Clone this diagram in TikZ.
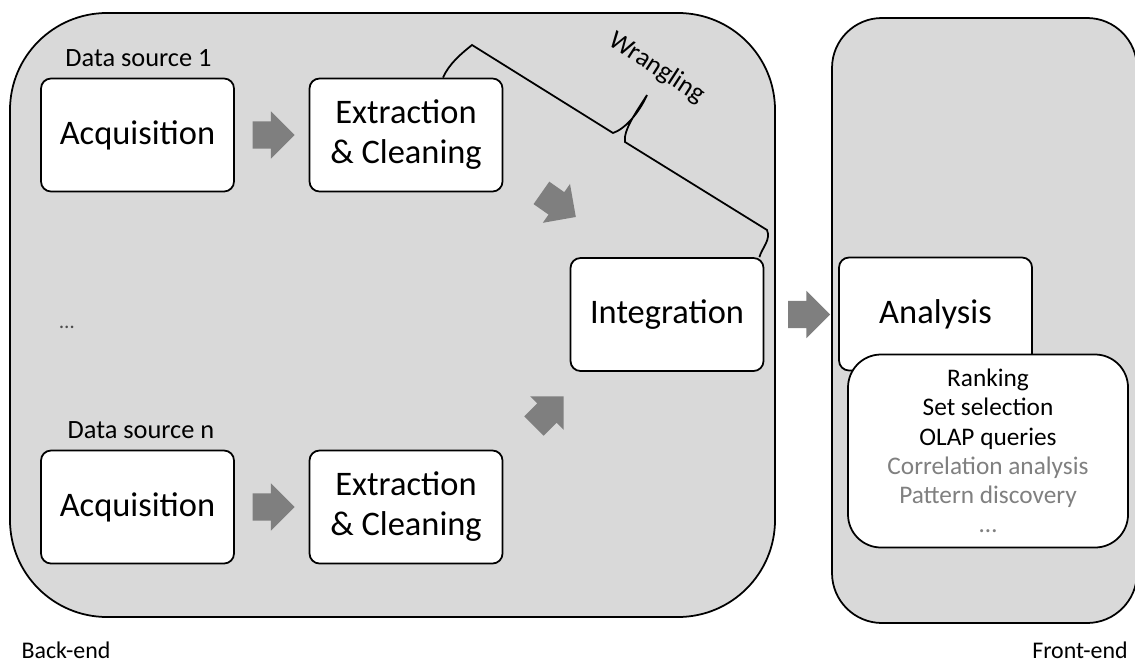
\documentclass[tikz,border=0pt]{standalone}
\usepackage{fontspec}
\setmainfont{Carlito}
\usetikzlibrary{positioning, shapes.arrows}
\definecolor{panelgray}{HTML}{D9D9D9}
\definecolor{arrowgray}{HTML}{7F7F7F}
\definecolor{textgray}{HTML}{808080}

\begin{document}
\begin{tikzpicture}[
	stage/.style={draw, fill=white, rounded corners=0.1cm, line width=0.5pt,
		minimum width=1.93cm, minimum height=1.13cm, inner sep=0pt,
		align=center, font=\fontsize{9.8}{11.4}\selectfont},
	tasks/.style={draw, fill=white, rounded corners=0.33cm, line width=0.5pt,
		minimum width=2.8cm, minimum height=1.93cm, inner sep=0pt,
		align=center, font=\fontsize{7.2}{8.3}\selectfont},
	panel/.style={draw, fill=panelgray, line width=0.5pt},
	blockarrow/.style={single arrow, fill=arrowgray, inner xsep=0pt,
		inner ysep=0.13cm, minimum height=0.42cm,
		single arrow head extend=0.1cm, single arrow head indent=0pt},
	small/.style={font=\fontsize{7.5}{9}\selectfont},
]
	\useasboundingbox (0,0) rectangle (11.35,-6.64);
	% Panels: back-end and front-end
	\draw[panel, rounded corners=0.97cm] (0.10,-0.13) rectangle (7.75,-6.17);
	\draw[panel, rounded corners=0.5cm] (8.32,-0.18) rectangle (11.37,-6.23);
	\node[anchor=base, font=\fontsize{6.8}{8}\selectfont] (back) at (0.66,-6.58) {Back-end};
	\node[anchor=base, font=\fontsize{6.8}{8}\selectfont] (front) at (10.80,-6.58) {Front-end};

	% Data source 1
	\node[small, anchor=base] (src1) at (1.385,-0.66) {Data source 1};
	\node[stage] (acq1) at (1.375,-1.35) {Acquisition};
	\node[blockarrow, right=0.17cm of acq1] (a1) {};
	\node[stage] (extr1) at (4.06,-1.35) {Extraction\\\& Cleaning};

	% dots
	\node[font=\fontsize{6}{7}\selectfont, text=black!70] (dots) at (0.67,-3.27) {\ldots};

	% Data source n
	\node[small, anchor=base] (srcn) at (1.41,-4.38) {Data source n};
	\node[stage] (acqn) at (1.375,-5.07) {Acquisition};
	\node[blockarrow, right=0.17cm of acqn] (an) {};
	\node[stage] (extrn) at (4.06,-5.07) {Extraction\\\& Cleaning};

	% Integration
	\node[blockarrow, rotate=-35] (d1) at (5.53,-2.01) {};
	\node[blockarrow, rotate=45] (dn) at (5.44,-4.16) {};
	\node[stage] (integ) at (6.67,-3.145) {Integration};
	\node[blockarrow, right=0.23cm of integ] (ai) {};

	% Wrangling brace
	\draw[line width=0.5pt] ([xshift=0.37cm]extr1.north)
		.. controls +(0.06,0.14) and +(-0.1,-0.08) .. (4.72,-0.45)
		-- (6.13,-1.33)
		.. controls +(0.12,0.04) and +(-0.08,-0.18) .. (6.47,-0.95)
		.. controls +(-0.1,-0.16) and +(-0.02,0.12) .. (6.25,-1.42)
		-- (7.67,-2.30)
		.. controls +(0.04,-0.1) and +(0.03,0.1) .. ([xshift=-0.05cm]integ.north east);
	\node[small, rotate=-33] (wrangling) at (6.57,-0.68) {Wrangling};

	% Analysis
	\node[stage] (anal) at (9.355,-3.14) {Analysis};
	\node[tasks] (tasklist) at (9.88,-4.51) {Ranking\\Set selection\\OLAP queries\\
		\textcolor{textgray}{Correlation analysis}\\
		\textcolor{textgray}{Pattern discovery}\\
		\textcolor{textgray}{\ldots}};
\end{tikzpicture}
\end{document}
